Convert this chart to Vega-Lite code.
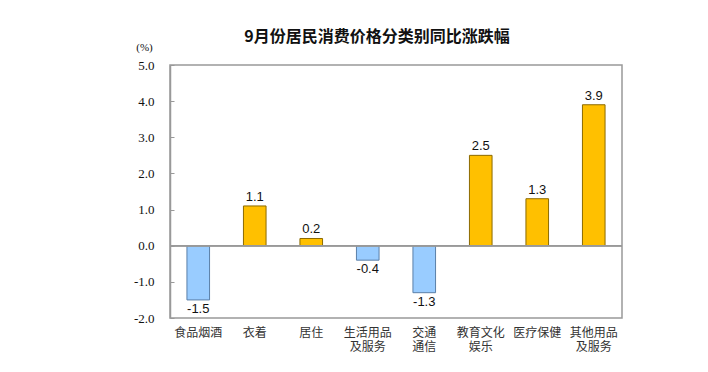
{
  "$schema": "https://vega.github.io/schema/vega-lite/v6.json",
  "width": 452,
  "height": 253,
  "autosize": {"type": "none"},
  "padding": {"left": 170, "top": 65, "right": 86, "bottom": 54},
  "background": "white",
  "title": {
    "text": "9月份居民消费价格分类别同比涨跌幅",
    "font": "Noto Sans CJK SC",
    "fontSize": 16,
    "fontWeight": "bold",
    "color": "#111",
    "anchor": "middle",
    "dx": -19,
    "offset": -4
  },
  "config": {
    "view": {"stroke": "#999", "strokeWidth": 1.5},
    "axis": {"grid": false}
  },
  "data": {
    "values": [
      {"cat": "食品烟酒", "v": -1.5},
      {"cat": "衣着", "v": 1.1},
      {"cat": "居住", "v": 0.2},
      {"cat": "生活用品及服务", "v": -0.4},
      {"cat": "交通通信", "v": -1.3},
      {"cat": "教育文化娱乐", "v": 2.5},
      {"cat": "医疗保健", "v": 1.3},
      {"cat": "其他用品及服务", "v": 3.9}
    ]
  },
  "transform": [
    {"calculate": "replace(format(datum.v, '.1f'), '\u2212', '-')", "as": "lab"}
  ],
  "encoding": {
    "x": {
      "field": "cat",
      "type": "nominal",
      "sort": null,
      "scale": {"paddingInner": 0.6, "paddingOuter": 0.3},
      "axis": {
        "title": null,
        "labelAngle": 0,
        "ticks": false,
        "domain": false,
        "labelPadding": 9,
        "labelFont": "Noto Sans CJK SC",
        "labelFontSize": 12,
        "labelColor": "#333",
        "labelLineHeight": 14,
        "labelOverlap": false,
        "labelExpr": "datum.value == '生活用品及服务' ? ['生活用品','及服务'] : datum.value == '交通通信' ? ['交通','通信'] : datum.value == '教育文化娱乐' ? ['教育文化','娱乐'] : datum.value == '其他用品及服务' ? ['其他用品','及服务'] : datum.value"
      }
    },
    "y": {
      "field": "v",
      "type": "quantitative",
      "scale": {"domain": [-2, 5], "nice": false, "zero": false},
      "axis": {
        "values": [-2, -1, 0, 1, 2, 3, 4, 5],
        "tickCount": 8,
        "labelExpr": "replace(format(datum.value, '.1f'), '\u2212', '-')",
        "labelOverlap": false,
        "labelBound": false,
        "title": "(%)",
        "titleAngle": 0,
        "titleX": -26,
        "titleY": -13,
        "titleFont": "Liberation Serif",
        "titleFontSize": 11,
        "titleFontWeight": "normal",
        "titleColor": "#111",
        "labelFont": "Liberation Serif",
        "labelFontSize": 13,
        "labelColor": "#111",
        "labelPadding": 20,
        "domainColor": "#999",
        "domainWidth": 1.5,
        "tickColor": "#999",
        "tickSize": -4
      }
    }
  },
  "layer": [
    {
      "mark": {"type": "bar", "strokeWidth": 1},
      "encoding": {
        "y2": {"datum": 0},
        "color": {
          "condition": {"test": "datum.v < 0", "value": "#99CCFF"},
          "value": "#FFC000"
        },
        "stroke": {
          "condition": {"test": "datum.v < 0", "value": "#5A7FA8"},
          "value": "#8C6A00"
        }
      }
    },
    {
      "mark": {"type": "rule", "color": "#999", "strokeWidth": 1.2},
      "encoding": {"y": {"datum": 0}, "x": null}
    },
    {
      "transform": [{"filter": "datum.v >= 0"}],
      "mark": {"type": "text", "baseline": "bottom", "dy": -2, "font": "Liberation Sans", "fontSize": 13, "color": "#111"},
      "encoding": {
        "text": {"field": "lab", "type": "nominal"}
      }
    },
    {
      "transform": [{"filter": "datum.v < 0"}],
      "mark": {"type": "text", "baseline": "top", "dy": 3, "font": "Liberation Sans", "fontSize": 13, "color": "#111"},
      "encoding": {
        "text": {"field": "lab", "type": "nominal"}
      }
    }
  ]
}
